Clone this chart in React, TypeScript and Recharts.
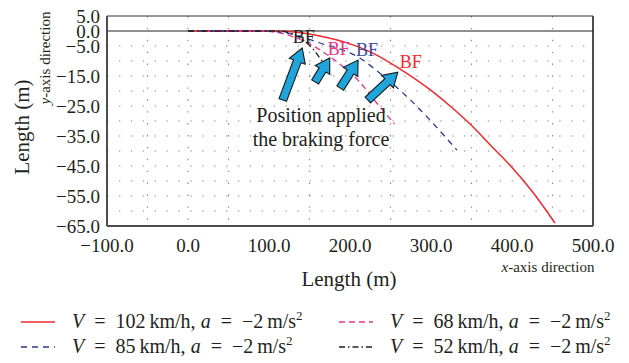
import { LineChart, Line, XAxis, YAxis, CartesianGrid, ReferenceLine, ReferenceDot } from "recharts"

// axis ticks / grid positions (data units)
const xTicks = [-100, 0, 100, 200, 300, 400, 500]
const yTicks = [5, 0, -5, -15, -25, -35, -45, -55, -65]
const gridX = [-50, 0, 50, 100, 150, 200, 250, 300, 350, 400, 450]
const gridY = [-5, -10, -15, -20, -25, -30, -35, -40, -45, -50, -55, -60]

// trajectories: [x (m), y (m)]
const v102 = [
  [0, 0], [60, 0], [110, 0], [134, -0.4], [160, -1.5], [200, -4.3], [230, -7.6],
  [262, -12.7], [300, -19.8], [330, -26.5], [352, -32], [375, -38.5], [400, -45.5],
  [425, -53.5], [453, -64],
]
const v85 = [
  [0, 0], [60, 0], [92, 0], [120, -0.6], [163, -4], [212, -9], [241, -15],
  [266, -20.8], [295, -28.6], [315, -34.5], [332, -39.7],
]
const v68 = [
  [0, 0], [60, 0], [88, 0], [110, -0.5], [148, -4], [180, -9.5], [212, -17],
  [233, -24], [255, -31],
]
const v52 = [
  [0, 0], [60, 0], [112, 0], [125, -0.6], [142, -3], [155, -6.2], [163, -9.1], [177, -14.7],
]

// "BF" label positions and arrows (tail -> tip), data units
const bfLabels = [
  { x: 143, y: -2, color: "#231f20" },
  { x: 186, y: -6, color: "#e6348a" },
  { x: 221, y: -6.3, color: "#3b4ba0" },
  { x: 275, y: -10.3, color: "#ee2a2e" },
]
const arrows = [
  [{ x: 117, y: -23 }, { x: 141, y: -5.7 }],
  [{ x: 157, y: -17 }, { x: 175, y: -9 }],
  [{ x: 188, y: -19 }, { x: 210, y: -9.7 }],
  [{ x: 222, y: -23 }, { x: 259, y: -13.7 }],
]

const toPts = (arr: number[][]) => arr.map(([x, y]) => ({ x, y }))

const series = [
  { key: "v102", speed: "102", data: toPts(v102), color: "#ee2a2e", dash: undefined as string | undefined, width: 1.5 },
  { key: "v68", speed: "68", data: toPts(v68), color: "#e6348a", dash: "6 4", width: 1.3 },
  { key: "v85", speed: "85", data: toPts(v85), color: "#2e3a8c", dash: "6 5", width: 1.3 },
  { key: "v52", speed: "52", data: toPts(v52), color: "#231f20", dash: "6 3 1.5 3", width: 1.3 },
]

const FONT = "'Liberation Serif', 'DejaVu Serif', serif"

const fmt = (v: number) => (v < 0 ? "\u2212" : "") + Math.abs(v).toFixed(1)

function Arrow(props: any) {
  const { x1, y1, x2, y2 } = props
  const dx = x2 - x1
  const dy = y2 - y1
  const len = Math.sqrt(dx * dx + dy * dy)
  const ux = dx / len
  const uy = dy / len
  const nx = -uy
  const ny = ux
  const head = 14
  const hw = 8.5
  const sw = 4
  const bx = x2 - ux * head
  const by = y2 - uy * head
  const pts = [
    [x1 + nx * sw, y1 + ny * sw],
    [bx + nx * sw, by + ny * sw],
    [bx + nx * hw, by + ny * hw],
    [x2, y2],
    [bx - nx * hw, by - ny * hw],
    [bx - nx * sw, by - ny * sw],
    [x1 - nx * sw, y1 - ny * sw],
  ]
  return (
    <polygon
      points={pts.map((p) => p.join(",")).join(" ")}
      fill="#1fa5dc"
      stroke="#1a1a1a"
      strokeWidth={1.1}
      strokeLinejoin="miter"
    />
  )
}

const SP = "\u2002"

function LegendItem({ s }: { s: (typeof series)[number] }) {
  return (
    <div style={{ display: "flex", alignItems: "center", height: 25 }}>
      <svg width={36} height={10} style={{ marginRight: 16 }}>
        <line x1={1} y1={5} x2={35} y2={5} stroke={s.color} strokeWidth={1.5} strokeDasharray={s.dash} />
      </svg>
      <span style={{ fontSize: 20, color: "#231f20", whiteSpace: "nowrap" }}>
        <i>V</i>{SP}={SP}{s.speed}&#8201;km/h, <i>a</i>{SP}={SP}{"\u2212"}2&#8201;m/s
        <sup style={{ fontSize: 13, lineHeight: 0, verticalAlign: "0.6em" }}>2</sup>
      </span>
    </div>
  )
}

export default function App() {
  return (
    <div style={{ position: "absolute", left: 0, top: 0, width: 629, height: 363, background: "#fff", fontFamily: FONT }}>
      <LineChart width={629} height={363} margin={{ top: 16, right: 36, bottom: 107, left: 0 }}>
        <CartesianGrid
          horizontalValues={gridY}
          verticalValues={gridX}
          stroke="#8a8a8a"
          strokeDasharray="1.4 10.5"
          strokeWidth={1.2}
        />
        <XAxis
          type="number"
          dataKey="x"
          domain={[-100, 500]}
          ticks={xTicks}
          tickFormatter={fmt}
          tickSize={0}
          tickMargin={13}
          height={30}
          axisLine={{ stroke: "#4d4d4d", strokeWidth: 2 }}
          tick={{ fill: "#231f20", fontSize: 19, fontFamily: FONT }}
          allowDataOverflow
        />
        <YAxis
          type="number"
          dataKey="y"
          domain={[-65, 5]}
          ticks={yTicks}
          tickFormatter={fmt}
          tickSize={0}
          tickMargin={7}
          width={107}
          axisLine={{ stroke: "#4d4d4d", strokeWidth: 2 }}
          tick={{ fill: "#231f20", fontSize: 19, fontFamily: FONT }}
          interval={0}
          allowDataOverflow
        />
        <ReferenceLine y={5} stroke="#333" strokeWidth={1} />
        <ReferenceLine x={500} stroke="#4d4d4d" strokeWidth={2} />
        <ReferenceLine y={0} stroke="#231f20" strokeWidth={1.2} />
        {series.map((s) => (
          <Line
            key={s.key}
            data={s.data}
            dataKey="y"
            type="monotone"
            stroke={s.color}
            strokeWidth={s.width}
            strokeDasharray={s.dash}
            dot={false}
            activeDot={false}
            isAnimationActive={false}
          />
        ))}
        {arrows.map((seg, i) => (
          <ReferenceLine key={"a" + i} segment={seg} shape={Arrow} ifOverflow="visible" />
        ))}
        {bfLabels.map((b, i) => (
          <ReferenceDot
            key={"bf" + i}
            x={b.x}
            y={b.y}
            r={0}
            fill="none"
            stroke="none"
            label={{ value: "BF", position: "center", fill: b.color, fontSize: 18, fontFamily: FONT }}
          />
        ))}
      </LineChart>

      {/* axis titles and annotation */}
      <svg width={629} height={363} style={{ position: "absolute", left: 0, top: 0, pointerEvents: "none" }} fontFamily={FONT}>
        <text x={22} y={127} transform="rotate(-90 22 127)" textAnchor="middle" dominantBaseline="central" fontSize={21} fill="#231f20">
          Length (m)
        </text>
        <text x={45} y={58} transform="rotate(-90 45 58)" textAnchor="middle" dominantBaseline="central" fontSize={15} fill="#231f20">
          <tspan fontStyle="italic">y</tspan>-axis direction
        </text>
        <text x={349} y={279} textAnchor="middle" dominantBaseline="central" fontSize={21} fill="#231f20">
          Length (m)
        </text>
        <text x={548} y={267} textAnchor="middle" dominantBaseline="central" fontSize={15} fill="#231f20">
          <tspan fontStyle="italic">x</tspan>-axis direction
        </text>
        <text x={321} y={115} textAnchor="middle" dominantBaseline="central" fontSize={20} fill="#231f20">
          Position applied
        </text>
        <text x={321} y={139} textAnchor="middle" dominantBaseline="central" fontSize={20} fill="#231f20">
          the braking force
        </text>
      </svg>

      {/* legend */}
      <div style={{ position: "absolute", left: 20, top: 309, display: "grid", gridTemplateColumns: "318px auto", rowGap: 0 }}>
        <LegendItem s={series[0]} />
        <LegendItem s={series[1]} />
        <LegendItem s={series[2]} />
        <LegendItem s={series[3]} />
      </div>
    </div>
  )
}
